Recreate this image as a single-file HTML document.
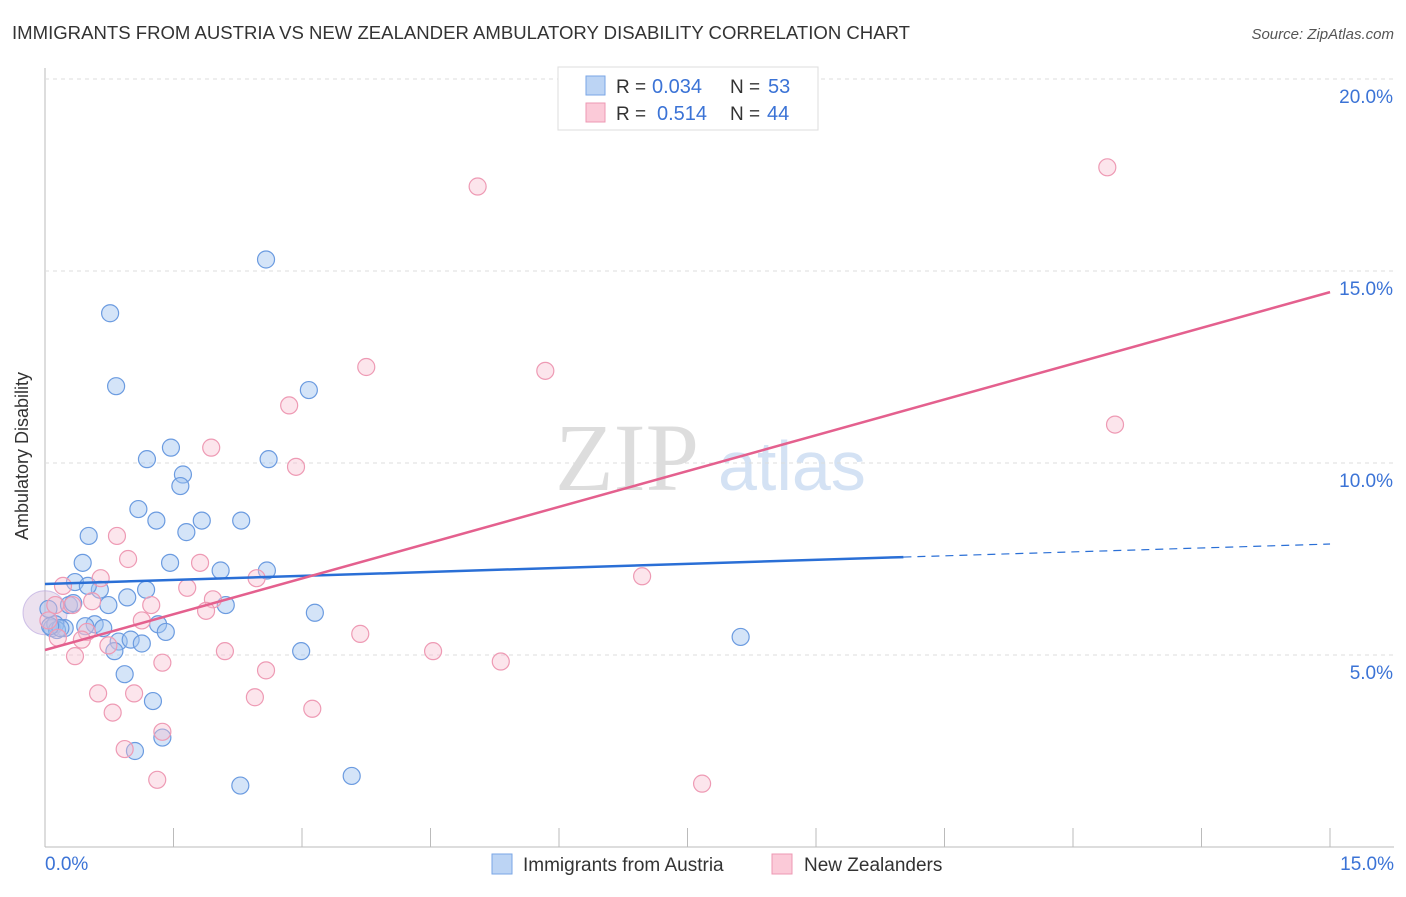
<!DOCTYPE html>
<html><head><meta charset="utf-8"><style>
body{margin:0;background:#fff;font-family:"Liberation Sans",sans-serif}
</style></head><body>
<svg id="c" width="1406" height="892" xmlns="http://www.w3.org/2000/svg">
<text x="12" y="39" font-size="18" fill="#333" textLength="898" lengthAdjust="spacingAndGlyphs">IMMIGRANTS FROM AUSTRIA VS NEW ZEALANDER AMBULATORY DISABILITY CORRELATION CHART</text>
<text x="1394" y="39" font-size="15" fill="#555" text-anchor="end" font-style="italic">Source: ZipAtlas.com</text>
<text x="28" y="456" font-size="18" fill="#333" text-anchor="middle" transform="rotate(-90 28 456)">Ambulatory Disability</text>
<text x="555" y="490" font-size="96" fill="#ddd" font-family="Liberation Serif">ZIP</text>
<text x="718" y="490" font-size="70" fill="#d4e2f4">atlas</text>
<g id="grid"></g><g id="pts"></g><g id="lines"></g>
<g>
<rect x="558" y="67" width="260" height="63" fill="#fff" stroke="#ddd"/>
<rect x="586" y="76" width="19" height="19" fill="#bcd4f4" stroke="#7aa6e6"/>
<rect x="586" y="103" width="19" height="19" fill="#fbcad8" stroke="#ee98b3"/>
<text x="616" y="93" font-size="19" fill="#333">R =</text>
<text x="652" y="93" font-size="20" fill="#3b73d6">0.034</text>
<text x="730" y="93" font-size="19" fill="#333">N =</text>
<text x="768" y="93" font-size="20" fill="#3b73d6">53</text>
<text x="616" y="120" font-size="19" fill="#333">R =</text>
<text x="657" y="120" font-size="20" fill="#3b73d6">0.514</text>
<text x="730" y="120" font-size="19" fill="#333">N =</text>
<text x="767" y="120" font-size="20" fill="#3b73d6">44</text>
</g>
<g>
<rect x="492" y="854" width="20" height="20" fill="#bcd4f4" stroke="#7aa6e6"/>
<text x="523" y="871" font-size="19" fill="#333">Immigrants from Austria</text>
<rect x="772" y="854" width="20" height="20" fill="#fbcad8" stroke="#ee98b3"/>
<text x="804" y="871" font-size="19" fill="#333">New Zealanders</text>
</g>
</svg>
<script>
const yTicks=[5,10,15,20];
const xTickLabels=["0.0%","15.0%"];
const blueX=[2.58,0.76,0.83,3.08,1.47,1.19,2.61,1.61,1.58,1.09,1.30,1.83,2.29,0.51,1.65,0.44,1.46,2.05,2.59,0.35,0.64,1.18,0.5,0.28,0.74,0.96,2.11,3.15,1.32,0.58,0.68,0.23,0.08,0.12,1.41,0.86,1.0,1.13,0.81,2.99,8.12,0.93,1.26,1.37,1.05,3.58,2.28,0.14,0.33,0.04,0.18,0.06,0.47];
const blueY=[15.3,13.9,12.0,11.9,10.4,10.1,10.1,9.7,9.4,8.8,8.5,8.5,8.5,8.1,8.2,7.4,7.4,7.2,7.2,6.9,6.7,6.7,6.8,6.3,6.3,6.5,6.3,6.1,5.8,5.8,5.7,5.7,5.7,5.8,5.6,5.35,5.4,5.3,5.1,5.1,5.47,4.5,3.8,2.85,2.5,1.85,1.6,5.65,6.35,6.2,5.7,5.75,5.75];
const pinkX=[12.4,5.05,3.75,5.84,2.85,12.49,1.94,2.93,0.84,0.97,1.81,2.47,6.97,0.65,1.66,0.21,1.96,1.24,0.55,1.88,0.32,1.13,0.49,3.68,0.43,0.15,0.74,2.1,4.53,0.35,1.37,5.32,2.58,0.62,1.04,2.45,3.12,0.79,1.37,0.93,1.31,7.67,0.12,0.04];
const pinkY=[17.7,17.2,12.5,12.4,11.5,11.0,10.4,9.9,8.1,7.5,7.4,7.0,7.05,7.0,6.75,6.8,6.45,6.3,6.4,6.15,6.3,5.9,5.6,5.55,5.4,5.45,5.25,5.1,5.1,4.97,4.8,4.83,4.6,4.0,4.0,3.9,3.6,3.5,3.0,2.55,1.75,1.65,6.3,5.9];
const blueLine=[[0,6.85],[10.02,7.55]], blueDash=[[10.02,7.55],[15,7.89]];
const pinkLine=[[0,5.13],[15,14.45]];
const X=v=>45+v*85.67, Y=v=>847-v*38.4;
const NS="http://www.w3.org/2000/svg";
function mk(t,a,p){const e=document.createElementNS(NS,t);for(const k in a)e.setAttribute(k,a[k]);p.appendChild(e);return e;}
const svg=document.getElementById('c'),g=document.getElementById('grid'),P=document.getElementById('pts'),L=document.getElementById('lines');
mk('line',{x1:45,y1:68,x2:45,y2:847,stroke:'#bbb'},g);
mk('line',{x1:45,y1:847,x2:1394,y2:847,stroke:'#bbb'},g);
yTicks.forEach(t=>{
 const l=mk('line',{x1:45,x2:1394,y1:Y(t),y2:Y(t),stroke:'#ddd','stroke-dasharray':'4,4'},g);
 
 
 const tx=mk('text',{x:1393,y:Y(t)+24,'font-size':19,fill:'#3b73d6','text-anchor':'end'},g);tx.textContent=t.toFixed(1)+'%';
 
 
});
for(let i=1;i<=10;i++){const xx=45+i*128.5;const l=mk('line',{x1:xx,x2:xx,y1:828,y2:847,stroke:'#bbb'},g);
 
 }
const t0=mk('text',{x:45,y:870,'font-size':19,fill:'#3b73d6'},g);t0.textContent=xTickLabels[0];


const t1=mk('text',{x:1394,y:870,'font-size':19,fill:'#3b73d6','text-anchor':'end'},g);t1.textContent=xTickLabels[1];


const big=mk('circle',{cx:X(0),cy:Y(6.1),r:22,fill:'rgba(200,170,210,0.35)',stroke:'rgba(180,160,220,0.6)'},P);


blueX.forEach((x,i)=>{const c=mk('circle',{cx:X(x),cy:Y(blueY[i]),r:8.5,fill:'rgba(160,196,240,0.45)',stroke:'#6b9be0','stroke-width':1.2},P);
 
 });
pinkX.forEach((x,i)=>{const c=mk('circle',{cx:X(x),cy:Y(pinkY[i]),r:8.5,fill:'rgba(248,190,208,0.4)',stroke:'#ee9ab4','stroke-width':1.2},P);
 
 });
const bl=mk('line',{x1:X(blueLine[0][0]),y1:Y(blueLine[0][1]),x2:X(blueLine[1][0]),y2:Y(blueLine[1][1]),stroke:'#2a6fd6','stroke-width':2.5},L);


const bd=mk('line',{x1:X(blueDash[0][0]),y1:Y(blueDash[0][1]),x2:X(blueDash[1][0]),y2:Y(blueDash[1][1]),stroke:'#2a6fd6','stroke-width':1.2,'stroke-dasharray':'8,6'},L);


const pl=mk('line',{x1:X(pinkLine[0][0]),y1:Y(pinkLine[0][1]),x2:X(pinkLine[1][0]),y2:Y(pinkLine[1][1]),stroke:'#e4608e','stroke-width':2.5},L);


</script>
</body></html>
